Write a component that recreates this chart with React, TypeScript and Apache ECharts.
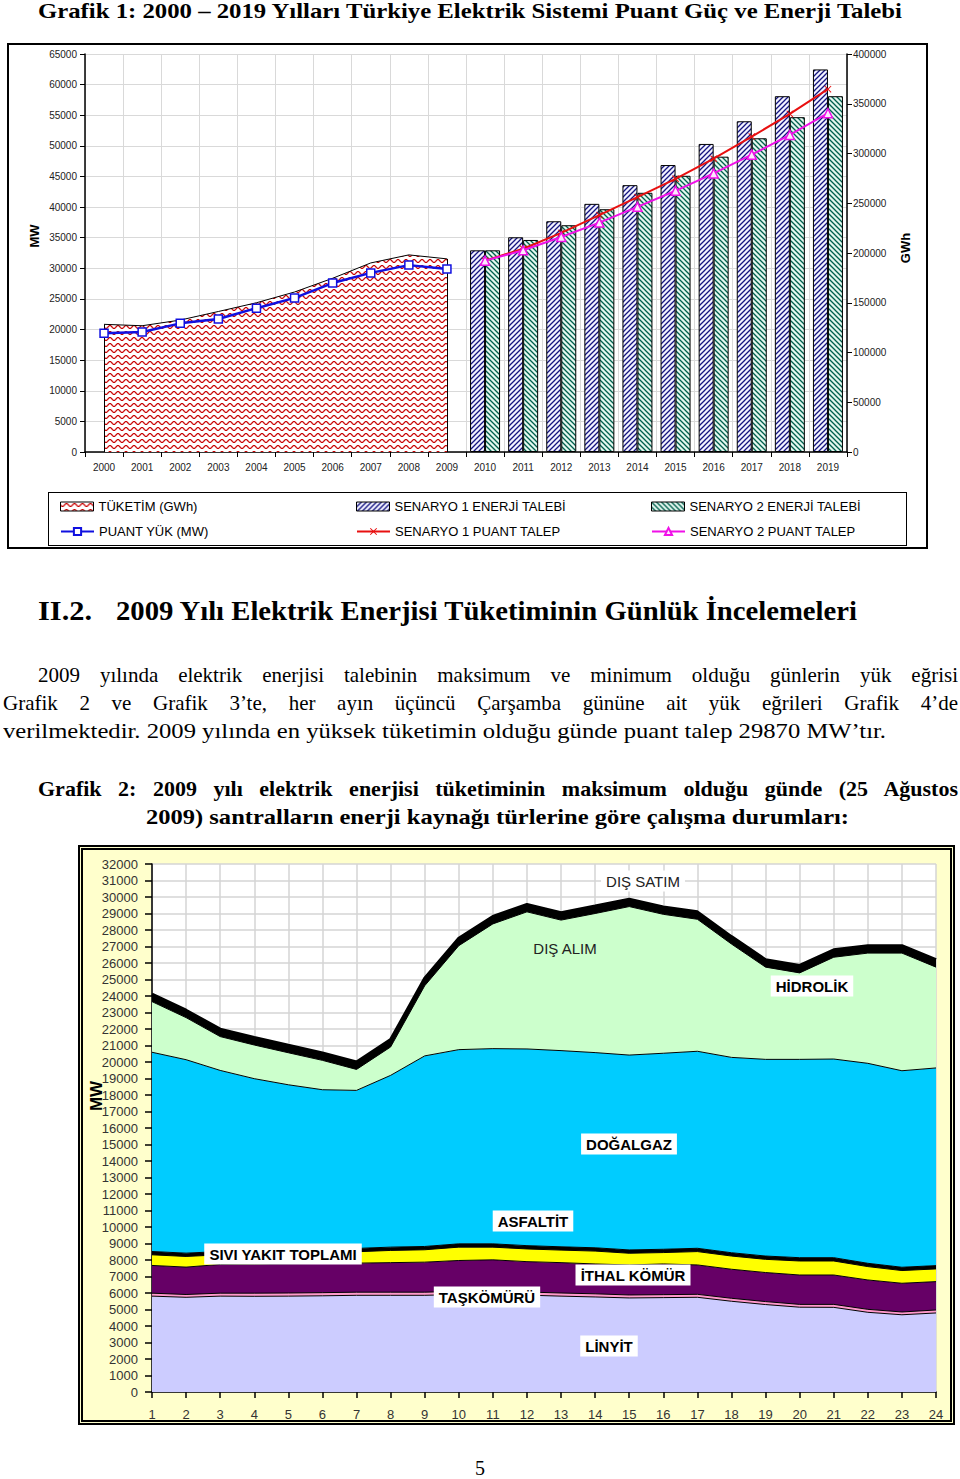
import React, { useEffect, useLayoutEffect, useRef } from 'react';
import * as echarts from 'echarts';

// ---------- Grafik 1 data ----------
const years = ['2000','2001','2002','2003','2004','2005','2006','2007','2008','2009','2010','2011','2012','2013','2014','2015','2016','2017','2018','2019'];
const tuketimGWh = [128300, 126900, 132600, 141200, 150000, 160800, 174600, 190000, 198100, 194100]; // 2000-2009
const puantYukMW = [19390, 19610, 21010, 21730, 23490, 25170, 27590, 29250, 30520, 29870]; // 2000-2009
const senaryo1Enerji = [202700, 215800, 231900, 249400, 268200, 288400, 309600, 332400, 357600, 384500]; // 2010-2019
const senaryo2Enerji = [202700, 213100, 227900, 244000, 260500, 277600, 296800, 315300, 336500, 357600]; // 2010-2019
const senaryo1Puant = [31250, 33200, 35780, 38680, 41620, 44620, 47900, 51510, 55220, 59260]; // 2010-2019
const senaryo2Puant = [31250, 32940, 35120, 37470, 40040, 42660, 45500, 48560, 51780, 55330]; // 2010-2019

// ---------- Grafik 2 data ----------
const hours = ['1','2','3','4','5','6','7','8','9','10','11','12','13','14','15','16','17','18','19','20','21','22','23','24'];
const linyit = [5810, 5740, 5810, 5800, 5810, 5830, 5860, 5860, 5860, 5910, 5920, 5870, 5810, 5760, 5700, 5720, 5740, 5500, 5300, 5140, 5130, 4830, 4680, 4790];
const taskomuru = [180, 170, 180, 190, 190, 190, 190, 190, 190, 190, 190, 190, 190, 190, 180, 180, 180, 180, 180, 170, 180, 180, 170, 180];
const ithalKomur = [1680, 1660, 1740, 1760, 1770, 1770, 1760, 1790, 1820, 1870, 1900, 1840, 1840, 1810, 1820, 1860, 1780, 1760, 1760, 1780, 1780, 1780, 1740, 1720];
const siviYakit = [645, 645, 585, 600, 610, 610, 690, 740, 750, 810, 770, 770, 760, 780, 710, 690, 810, 800, 800, 850, 850, 810, 770, 770];
const asfaltit = [200, 200, 200, 200, 200, 200, 200, 200, 200, 200, 200, 200, 200, 200, 200, 200, 200, 200, 200, 200, 200, 200, 200, 200];
const dogalgaz = [12075, 11725, 10975, 10440, 10040, 9720, 9580, 10410, 11550, 11770, 11830, 11920, 11890, 11830, 11810, 11880, 11940, 11840, 11920, 12020, 12040, 12120, 11910, 11980];
const hidrolik = [3070, 2550, 2050, 2040, 1940, 1780, 1270, 1720, 4250, 6300, 7560, 8310, 7910, 8430, 9000, 8420, 8000, 6870, 5590, 5240, 6170, 6680, 7130, 6110];
const disAlim = [450, 450, 450, 450, 450, 450, 450, 450, 450, 450, 450, 450, 450, 450, 450, 450, 450, 450, 450, 450, 450, 450, 450, 450];

const SANS = 'Arial, "Liberation Sans", sans-serif';
const SERIF = '"Liberation Serif", "Times New Roman", serif';
const plain = (v: number) => String(v);

const place = (vals: number[], offset: number) =>
  years.map((_, i) => (i >= offset && i - offset < vals.length ? vals[i - offset] : null));

function makePattern(w: number, h: number, bg: string, draw: (ctx: CanvasRenderingContext2D) => void) {
  const c = document.createElement('canvas');
  c.width = w;
  c.height = h;
  const ctx = c.getContext('2d')!;
  ctx.fillStyle = bg;
  ctx.fillRect(0, 0, w, h);
  draw(ctx);
  return { image: c, repeat: 'repeat', imageWidth: w, imageHeight: h } as any;
}

const X_SYMBOL = 'path://M1,0 L5,4 L9,0 L10,1 L6,5 L10,9 L9,10 L5,6 L1,10 L0,9 L4,5 L0,1 Z';

function option1() {
  const wave = makePattern(8, 6, '#ffffff', (ctx) => {
    ctx.strokeStyle = '#c80000';
    ctx.lineWidth = 1.2;
    ctx.beginPath();
    for (let x = -1; x <= 9; x += 0.5) {
      const y = 3 + 1.5 * Math.sin((x / 8) * 2 * Math.PI);
      if (x === -1) ctx.moveTo(x, y); else ctx.lineTo(x, y);
    }
    ctx.stroke();
  });
  const blue = makePattern(5, 5, '#f2f2ff', (ctx) => {
    ctx.strokeStyle = '#141480';
    ctx.lineWidth = 1.3;
    ctx.beginPath();
    ctx.moveTo(-1, 6); ctx.lineTo(6, -1);
    ctx.moveTo(-1, 1); ctx.lineTo(1, -1);
    ctx.moveTo(4, 6); ctx.lineTo(6, 4);
    ctx.stroke();
  });
  const green = makePattern(5, 5, '#e4f7ef', (ctx) => {
    ctx.strokeStyle = '#00604e';
    ctx.lineWidth = 1.3;
    ctx.beginPath();
    ctx.moveTo(-1, -1); ctx.lineTo(6, 6);
    ctx.moveTo(-1, 4); ctx.lineTo(1, 6);
    ctx.moveTo(4, -1); ctx.lineTo(6, 1);
    ctx.stroke();
  });

  const legendBase = {
    padding: 0,
    itemWidth: 33,
    itemHeight: 9,
    itemGap: 0,
    selectedMode: false,
    textStyle: { fontSize: 13, color: '#000', fontFamily: SANS },
  };

  return {
    animation: false,
    textStyle: { fontFamily: SANS },
    grid: { left: 85, top: 54, width: 762, height: 398, show: true, backgroundColor: '#fff', borderWidth: 0 },
    xAxis: {
      type: 'category',
      data: years,
      boundaryGap: true,
      axisLine: { lineStyle: { color: '#000', width: 1.5 } },
      axisTick: { show: true, length: 5, lineStyle: { color: '#000' } },
      axisLabel: { fontSize: 10, color: '#222', margin: 10, interval: 0 },
      splitLine: { show: true, interval: 0, lineStyle: { color: '#d9d9d9' } },
    },
    yAxis: [
      {
        type: 'value', min: 0, max: 65000, interval: 5000, position: 'left',
        axisLine: { show: true, lineStyle: { color: '#000', width: 1.5 } },
        axisTick: { show: true, length: 5, lineStyle: { color: '#000' } },
        axisLabel: { fontSize: 10, color: '#222', margin: 8, formatter: plain },
        splitLine: { show: true, lineStyle: { color: '#d9d9d9' } },
      },
      {
        type: 'value', min: 0, max: 400000, interval: 50000, position: 'right',
        axisLine: { show: true, lineStyle: { color: '#000', width: 1.5 } },
        axisTick: { show: true, length: 5, lineStyle: { color: '#000' } },
        axisLabel: { fontSize: 10, color: '#222', margin: 6, formatter: plain },
        splitLine: { show: false },
      },
    ],
    legend: [
      { ...legendBase, left: 60, top: 500, data: [{ name: 'TÜKETİM (GWh)', icon: 'rect', itemStyle: { color: wave, borderColor: '#000', borderWidth: 1 } }] },
      { ...legendBase, left: 356, top: 500, data: [{ name: 'SENARYO 1 ENERJİ TALEBİ', icon: 'rect', itemStyle: { color: blue, borderColor: '#000', borderWidth: 1 } }] },
      { ...legendBase, left: 651, top: 500, data: [{ name: 'SENARYO 2 ENERJİ TALEBİ', icon: 'rect', itemStyle: { color: green, borderColor: '#000', borderWidth: 1 } }] },
      { ...legendBase, left: 60, top: 525, data: ['PUANT YÜK (MW)'] },
      { ...legendBase, left: 356, top: 525, data: ['SENARYO 1 PUANT TALEP'] },
      { ...legendBase, left: 651, top: 525, data: ['SENARYO 2 PUANT TALEP'] },
    ],
    series: [
      {
        name: 'TÜKETİM (GWh)', type: 'line', yAxisIndex: 1, data: place(tuketimGWh, 0),
        symbol: 'none', z: 1,
        lineStyle: { color: '#000', width: 1 },
        itemStyle: { color: wave },
        areaStyle: { color: wave, opacity: 1 },
        markLine: {
          silent: true, symbol: 'none', label: { show: false },
          lineStyle: { color: '#000', type: 'solid', width: 1 },
          data: [
            [{ coord: [years[0], 0] }, { coord: [years[0], tuketimGWh[0]] }],
            [{ coord: [years[9], 0] }, { coord: [years[9], tuketimGWh[9]] }],
          ],
        },
      },
      {
        name: 'SENARYO 1 ENERJİ TALEBİ', type: 'bar', yAxisIndex: 1, data: place(senaryo1Enerji, 10),
        barWidth: 15, barGap: '0%', z: 2,
        itemStyle: { color: blue, borderColor: '#000', borderWidth: 1 },
      },
      {
        name: 'SENARYO 2 ENERJİ TALEBİ', type: 'bar', yAxisIndex: 1, data: place(senaryo2Enerji, 10),
        barWidth: 15, barGap: '0%', z: 2,
        itemStyle: { color: green, borderColor: '#000', borderWidth: 1 },
      },
      {
        name: 'PUANT YÜK (MW)', type: 'line', yAxisIndex: 0, data: place(puantYukMW, 0),
        symbol: 'rect', symbolSize: 8, z: 5,
        lineStyle: { color: '#1010e0', width: 2.5 },
        itemStyle: { color: '#fff', borderColor: '#1010e0', borderWidth: 1.5 },
      },
      {
        name: 'SENARYO 1 PUANT TALEP', type: 'line', yAxisIndex: 0, data: place(senaryo1Puant, 10),
        symbol: X_SYMBOL, symbolSize: 7, z: 4,
        lineStyle: { color: '#e81010', width: 2 },
        itemStyle: { color: '#e81010' },
      },
      {
        name: 'SENARYO 2 PUANT TALEP', type: 'line', yAxisIndex: 0, data: place(senaryo2Puant, 10),
        symbol: 'triangle', symbolSize: 9, z: 5,
        lineStyle: { color: '#f010e8', width: 2 },
        itemStyle: { color: '#fde8fd', borderColor: '#f010e8', borderWidth: 1.5 },
      },
    ],
    graphic: [
      { type: 'text', x: 34, y: 236, rotation: Math.PI / 2, style: { text: 'MW', fontSize: 13, fontWeight: 'bold', fontFamily: SANS, fill: '#000', align: 'center', verticalAlign: 'middle' } },
      { type: 'text', x: 905, y: 248, rotation: Math.PI / 2, style: { text: 'GWh', fontSize: 13, fontWeight: 'bold', fontFamily: SANS, fill: '#000', align: 'center', verticalAlign: 'middle' } },
    ],
  };
}

function option2() {
  const layer = (name: string, data: number[], color: string, lineWidth = 1) => ({
    name, type: 'line', stack: 'total', data, symbol: 'none',
    lineStyle: { color: '#000', width: lineWidth },
    itemStyle: { color },
    areaStyle: { color, opacity: 1 },
  });
  const label = (text: string, x: number, y: number, bold = true, bg = true) => ({
    type: 'text', x, y, z: 100,
    style: {
      text, fontSize: 15, fontWeight: bold ? 'bold' : 'normal', fontFamily: SANS,
      fill: bold ? '#000' : '#222', align: 'center', verticalAlign: 'middle',
      backgroundColor: bg ? '#fff' : 'transparent', padding: [3, 5],
    },
  });
  return {
    animation: false,
    textStyle: { fontFamily: SANS },
    grid: { left: 152, top: 24, width: 784, height: 528, show: true, backgroundColor: '#fff', borderWidth: 0 },
    xAxis: {
      type: 'category', data: hours, boundaryGap: false,
      axisLine: { lineStyle: { color: '#000', width: 1.5 } },
      axisTick: { show: true, length: 6, lineStyle: { color: '#000', width: 1.5 } },
      axisLabel: { fontSize: 13, color: '#333', margin: 16, interval: 0 },
      splitLine: { show: true, interval: 0, lineStyle: { color: '#d4d4d4', width: 1.5 } },
    },
    yAxis: {
      type: 'value', min: 0, max: 32000, interval: 1000,
      axisLine: { show: true, lineStyle: { color: '#000', width: 1.5 } },
      axisTick: { show: true, length: 7, lineStyle: { color: '#000', width: 1.5 } },
      axisLabel: { fontSize: 13, color: '#333', margin: 14, formatter: plain },
      splitLine: { show: true, lineStyle: { color: '#d4d4d4', width: 1.5 } },
    },
    series: [
      layer('LİNYİT', linyit, '#ccccff'),
      layer('TAŞKÖMÜRÜ', taskomuru, '#ff99cc'),
      layer('İTHAL KÖMÜR', ithalKomur, '#660066'),
      layer('SIVI YAKIT TOPLAMI', siviYakit, '#ffff00'),
      layer('ASFALTİT', asfaltit, '#000000'),
      layer('DOĞALGAZ', dogalgaz, '#00ccff'),
      layer('HİDROLİK', hidrolik, '#ccffcc'),
      layer('DIŞ ALIM', disAlim, '#000000', 3),
    ],
    graphic: [
      { type: 'text', x: 96, y: 256, rotation: Math.PI / 2, style: { text: 'MW', fontSize: 17, fontWeight: 'bold', fontFamily: SANS, fill: '#000', align: 'center', verticalAlign: 'middle' } },
      label('DIŞ SATIM', 643, 41, false, true),
      label('DIŞ ALIM', 565, 108, false, false),
      label('HİDROLİK', 812, 146),
      label('DOĞALGAZ', 629, 304),
      label('ASFALTİT', 533, 381),
      label('SIVI YAKIT TOPLAMI', 283, 414),
      label('İTHAL KÖMÜR', 633, 435),
      label('TAŞKÖMÜRÜ', 487, 457),
      label('LİNYİT', 609, 506),
    ],
  };
}

type LineProps = { x: number; y: number; w: number; size: number; bold?: boolean; text: string; mode: 'fit' | 'justify' | 'none' };

function TextLine({ x, y, w, size, bold, text, mode }: LineProps) {
  const ref = useRef<HTMLSpanElement>(null);
  useLayoutEffect(() => {
    const el = ref.current;
    if (!el) return;
    el.style.wordSpacing = '0px';
    el.style.transform = 'none';
    const nw = el.getBoundingClientRect().width;
    if (mode === 'justify') {
      const spaces = (text.match(/ /g) || []).length;
      if (spaces > 0) el.style.wordSpacing = `${(w - nw) / spaces}px`;
    } else if (mode === 'fit' && nw > 0) {
      el.style.transform = `scaleX(${w / nw})`;
    }
  }, [text, w, mode]);
  return (
    <span
      ref={ref}
      style={{
        position: 'absolute', left: x, top: y, fontSize: size, lineHeight: 1,
        fontWeight: bold ? 'bold' : 'normal', fontFamily: SERIF, whiteSpace: 'pre',
        transformOrigin: '0 0', display: 'inline-block', color: '#000',
      }}
    >
      {text}
    </span>
  );
}

export default function App() {
  const ref1 = useRef<HTMLDivElement>(null);
  const ref2 = useRef<HTMLDivElement>(null);

  useEffect(() => {
    const c1 = echarts.init(ref1.current!, null, { renderer: 'svg' });
    c1.setOption(option1() as any);
    const c2 = echarts.init(ref2.current!, null, { renderer: 'svg' });
    c2.setOption(option2() as any);
    return () => {
      c1.dispose();
      c2.dispose();
    };
  }, []);

  return (
    <div style={{ position: 'absolute', left: 0, top: 0, width: 960, height: 1479, background: '#fff', overflow: 'hidden' }}>
      {/* Grafik 1 frame and legend box */}
      <div style={{ position: 'absolute', left: 7, top: 43, width: 921, height: 506, border: '2px solid #000', boxSizing: 'border-box' }} />
      <div style={{ position: 'absolute', left: 48, top: 492, width: 859, height: 54, border: '1.5px solid #000', boxSizing: 'border-box' }} />
      {/* Grafik 2 frame */}
      <div style={{ position: 'absolute', left: 78, top: 845, width: 877, height: 580, border: '5px double #000', background: '#ffffcc', boxSizing: 'border-box' }} />

      <div ref={ref1} style={{ position: 'absolute', left: 0, top: 0, width: 960, height: 560 }} />
      <div ref={ref2} style={{ position: 'absolute', left: 0, top: 840, width: 960, height: 600 }} />

      <TextLine x={38} y={1} w={864} size={21} bold mode="fit" text="Grafik 1: 2000 – 2019 Yılları Türkiye Elektrik Sistemi Puant Güç ve Enerji Talebi" />
      <TextLine x={38} y={598} w={54} size={27} bold mode="fit" text="II.2." />
      <TextLine x={116} y={598} w={741} size={27} bold mode="fit" text="2009 Yılı Elektrik Enerjisi Tüketiminin Günlük İncelemeleri" />
      <TextLine x={38} y={665} w={920} size={21} mode="justify" text="2009 yılında elektrik enerjisi talebinin maksimum ve minimum olduğu günlerin yük eğrisi" />
      <TextLine x={3} y={693} w={955} size={21} mode="justify" text="Grafik 2 ve Grafik 3’te, her ayın üçüncü Çarşamba gününe ait yük eğrileri Grafik 4’de" />
      <TextLine x={3} y={721} w={883} size={21} mode="fit" text="verilmektedir. 2009 yılında en yüksek tüketimin olduğu günde puant talep 29870 MW’tır." />
      <TextLine x={38} y={778} w={920} size={22} bold mode="justify" text="Grafik 2: 2009 yılı elektrik enerjisi tüketiminin maksimum olduğu günde (25 Ağustos" />
      <TextLine x={146} y={806} w={703} size={22} bold mode="fit" text="2009) santralların enerji kaynağı türlerine göre çalışma durumları:" />
      <TextLine x={475} y={1458} w={12} size={20} mode="none" text="5" />
    </div>
  );
}
